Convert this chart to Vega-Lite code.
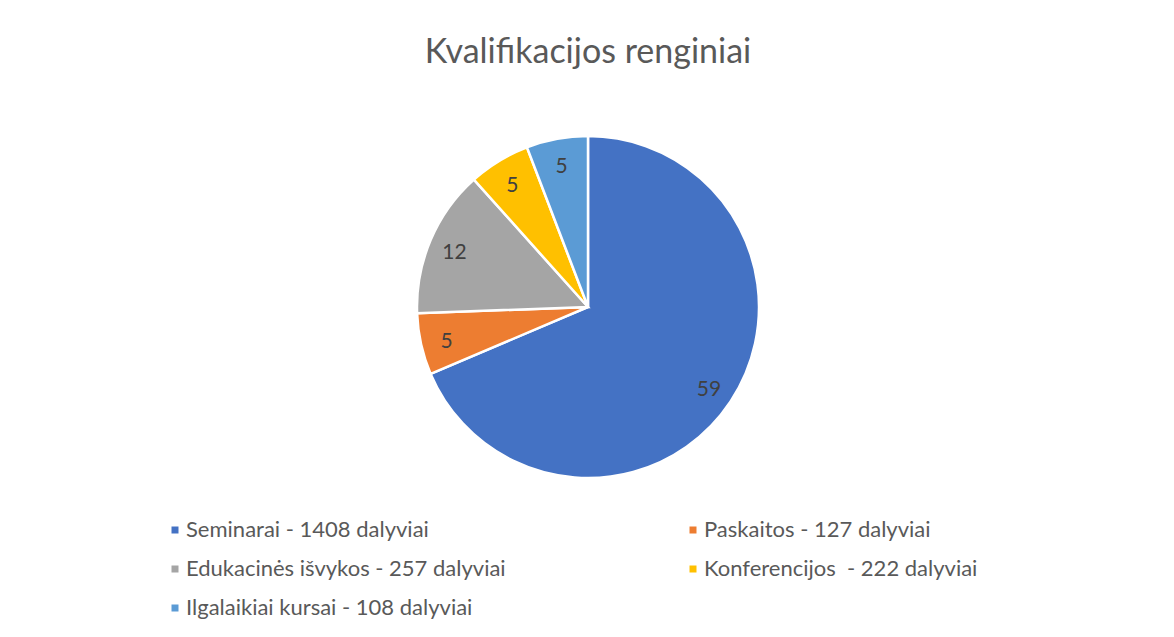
{
  "$schema": "https://vega.github.io/schema/vega-lite/v6.json",
  "width": 342,
  "height": 342,
  "autosize": "none",
  "padding": {"left": 417, "top": 136, "right": 415, "bottom": 159},
  "background": "white",
  "title": {"text": "Kvalifikacijos renginiai", "font": "Lato", "fontSize": 34, "fontWeight": "normal", "color": "#595959", "anchor": "middle", "offset": 61},
  "data": {"values": [
    {"renginys": "Seminarai - 1408 dalyviai", "kiekis": 59, "i": 1},
    {"renginys": "Paskaitos - 127 dalyviai", "kiekis": 5, "i": 2},
    {"renginys": "Edukacinės išvykos - 257 dalyviai", "kiekis": 12, "i": 3},
    {"renginys": "Konferencijos\u00a0 - 222 dalyviai", "kiekis": 5, "i": 4},
    {"renginys": "Ilgalaikiai kursai - 108 dalyviai", "kiekis": 5, "i": 5}
  ]},
  "encoding": {
    "theta": {"field": "kiekis", "type": "quantitative", "stack": true},
    "order": {"field": "i", "type": "quantitative"}
  },
  "layer": [
    {
      "mark": {"type": "arc", "outerRadius": 171, "stroke": "white", "strokeWidth": 2.5},
      "encoding": {
        "color": {
          "field": "renginys", "type": "nominal",
          "scale": {
            "domain": ["Seminarai - 1408 dalyviai", "Edukacinės išvykos - 257 dalyviai", "Ilgalaikiai kursai - 108 dalyviai", "Paskaitos - 127 dalyviai", "Konferencijos\u00a0 - 222 dalyviai"],
            "range": ["#4472C4", "#A5A5A5", "#5B9BD5", "#ED7D31", "#FFC000"]
          },
          "legend": {
            "orient": "none", "legendX": -253, "legendY": 383, "columns": 2, "title": null,
            "padding": 0, "symbolType": "square", "symbolSize": 49, "symbolStrokeWidth": 0,
            "labelFont": "Lato", "labelFontSize": 22, "labelColor": "#595959", "labelOffset": 0,
            "labelLimit": 0, "rowPadding": 17, "columnPadding": 176
          }
        }
      }
    },
    {
      "mark": {"type": "text", "radius": 145, "dy": 3, "font": "Lato", "fontSize": 21, "fill": "#404040"},
      "encoding": {"text": {"field": "kiekis", "type": "quantitative"}}
    }
  ],
  "config": {"view": {"stroke": null}}
}
